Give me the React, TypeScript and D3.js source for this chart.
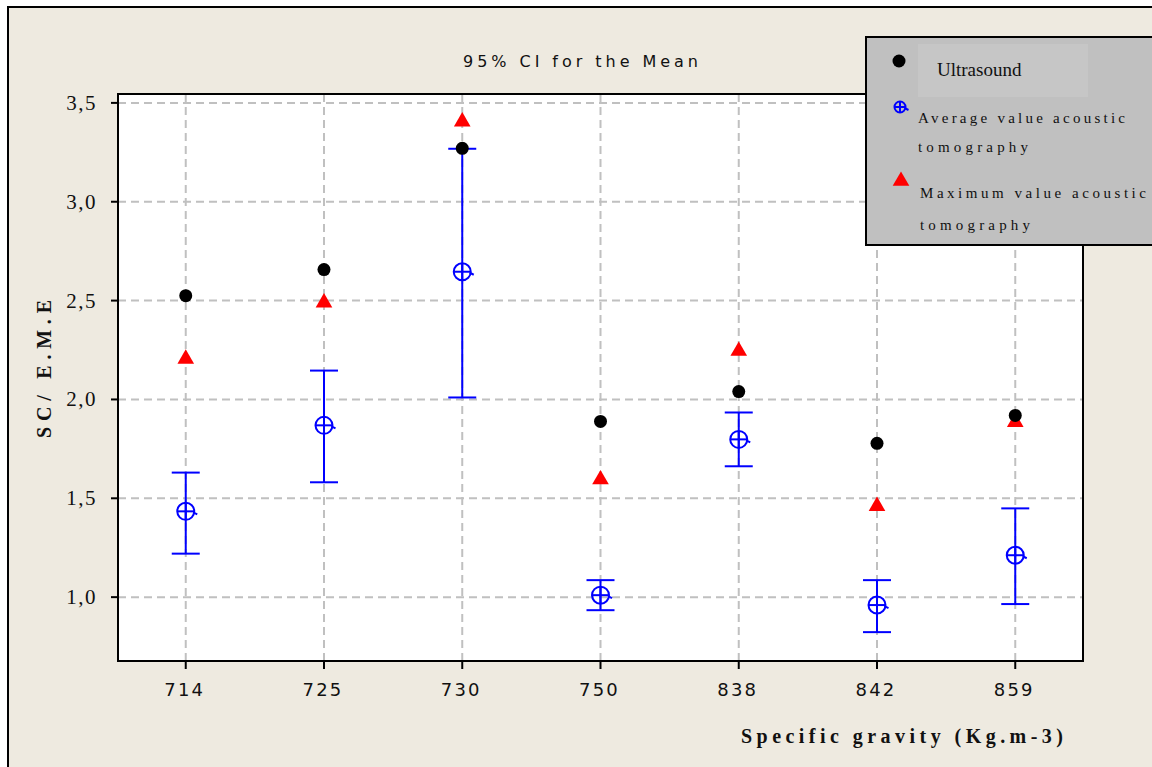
import React from "react";
import * as d3 from "d3";

// data
const categories = ["714", "725", "730", "750", "838", "842", "859"];
const ultrasound = [2.525, 2.657, 3.27, 1.889, 2.04, 1.778, 1.919];
const maxAcoustic = [2.21, 2.495, 3.41, 1.6, 2.25, 1.465, 1.89];
const avgAcoustic = [1.434, 1.869, 2.646, 1.01, 1.798, 0.96, 1.212];
const ciLower = [1.22, 1.581, 2.01, 0.934, 1.662, 0.823, 0.965];
const ciUpper = [1.63, 2.146, 3.268, 1.086, 1.934, 1.086, 1.449];
const yTicks = [1.0, 1.5, 2.0, 2.5, 3.0, 3.5];
const yTickLabels = ["1,0", "1,5", "2,0", "2,5", "3,0", "3,5"];

const W = 1152;
const H = 767;
const plot = { left: 118, right: 1083, top: 94, bottom: 661 };

const App = () => {
  const x = d3
    .scalePoint<string>()
    .domain(categories)
    .range([plot.left, plot.right])
    .padding(0.49);

  const y = d3.scaleLinear().domain([0.677, 3.545]).range([plot.bottom, plot.top]);

  const tri = d3.symbol().type(d3.symbolTriangle).size(120);

  const serif = "'Liberation Serif', 'Times New Roman', serif";
  const sans = "'DejaVu Sans', Verdana, sans-serif";
  const blue = "#0000FF";

  // the open circle with a cross used for the mean markers
  const meanMarker = (cx: number, cy: number, r: number, key?: string) => (
    <g key={key} transform={`translate(${cx},${cy})`} stroke={blue} strokeWidth={2} fill="none">
      <circle r={r} />
      <line x1={-r} x2={r} y1={0} y2={0} />
      <line x1={0} x2={0} y1={-r} y2={r} />
      <line x1={r - 1} x2={r + 3} y1={1} y2={3} />
    </g>
  );

  return (
    <svg
      width={W}
      height={H}
      style={{ position: "absolute", left: 0, top: 0, background: "#ffffff" }}
    >
      {/* outer frame */}
      <rect x={8} y={7} width={1200} height={800} fill="#EEEAE0" stroke="#000" strokeWidth={2} />

      {/* title */}
      <text x={463} y={67} fontFamily={sans} fontSize={16} fill="#111" textLength={235} lengthAdjust="spacing">
        95% CI for the Mean
      </text>

      {/* plot area */}
      <rect
        x={plot.left}
        y={plot.top}
        width={plot.right - plot.left}
        height={plot.bottom - plot.top}
        fill="#ffffff"
      />

      {/* grid */}
      <g stroke="#C0C0C0" strokeWidth={2} strokeDasharray="8,5">
        {yTicks.map((t) => (
          <line key={"gy" + t} x1={plot.left} x2={plot.right} y1={y(t)} y2={y(t)} />
        ))}
        {categories.map((c) => (
          <line key={"gx" + c} x1={x(c)} x2={x(c)} y1={plot.top} y2={plot.bottom} />
        ))}
      </g>

      <rect
        x={plot.left}
        y={plot.top}
        width={plot.right - plot.left}
        height={plot.bottom - plot.top}
        fill="none"
        stroke="#000"
        strokeWidth={2}
      />

      {/* y axis ticks */}
      {yTicks.map((t, i) => (
        <g key={"yt" + t}>
          <line x1={plot.left - 7} x2={plot.left} y1={y(t)} y2={y(t)} stroke="#000" strokeWidth={2} />
          <text
            x={97}
            y={y(t) + 7}
            textAnchor="end"
            fontFamily={serif}
            fontSize={21}
            letterSpacing={1.5}
            fill="#111"
          >
            {yTickLabels[i]}
          </text>
        </g>
      ))}

      {/* x axis ticks */}
      {categories.map((c) => (
        <g key={"xt" + c}>
          <line x1={x(c)} x2={x(c)} y1={plot.bottom} y2={plot.bottom + 8} stroke="#000" strokeWidth={2} />
          <text
            x={(x(c) as number) - 1}
            y={696}
            textAnchor="middle"
            fontFamily={sans}
            fontSize={18}
            letterSpacing={2.2}
            fill="#111"
          >
            {c}
          </text>
        </g>
      ))}

      {/* axis titles */}
      <text
        x={741}
        y={743}
        fontFamily={serif}
        fontWeight="bold"
        fontSize={20}
        fill="#111"
        textLength={322}
        lengthAdjust="spacing"
      >
        Specific gravity (Kg.m-3)
      </text>
      <text
        transform="translate(51,438) rotate(-90)"
        fontFamily={serif}
        fontWeight="bold"
        fontSize={20}
        fill="#111"
        textLength={138}
        lengthAdjust="spacing"
      >
        SC/ E.M.E
      </text>

      {/* error bars */}
      {categories.map((c, i) => {
        const cx = x(c) as number;
        return (
          <g key={"eb" + c} stroke={blue} strokeWidth={2}>
            <line x1={cx} x2={cx} y1={y(ciLower[i])} y2={y(ciUpper[i])} />
            <line x1={cx - 14} x2={cx + 14} y1={y(ciLower[i])} y2={y(ciLower[i])} />
            <line x1={cx - 14} x2={cx + 14} y1={y(ciUpper[i])} y2={y(ciUpper[i])} />
          </g>
        );
      })}

      {/* mean markers */}
      {categories.map((c, i) => meanMarker(x(c) as number, y(avgAcoustic[i]), 8.5, "m" + c))}

      {/* maximum value triangles */}
      {categories.map((c, i) => (
        <path
          key={"tr" + c}
          d={tri() as string}
          transform={`translate(${x(c)},${y(maxAcoustic[i]) + 1})`}
          fill="#FF0000"
        />
      ))}

      {/* ultrasound dots */}
      {categories.map((c, i) => (
        <circle key={"u" + c} cx={x(c)} cy={y(ultrasound[i])} r={6.5} fill="#000" />
      ))}

      {/* legend */}
      <g>
        <rect x={866} y={37} width={300} height={208} fill="#C0C0C0" stroke="#000" strokeWidth={2} />
        <rect x={918} y={44} width={170} height={53} fill="#C6C6C6" />
        <circle cx={899} cy={61} r={6.5} fill="#000" />
        <text x={937} y={76} fontFamily={serif} fontSize={19} fill="#111">
          Ultrasound
        </text>
        {meanMarker(900, 107, 5.5)}
        <text x={918} y={123} fontFamily={serif} fontSize={15} fill="#111" textLength={207} lengthAdjust="spacing">
          Average value acoustic
        </text>
        <text x={918} y={152} fontFamily={serif} fontSize={15} fill="#111" textLength={110} lengthAdjust="spacing">
          tomography
        </text>
        <path d={tri() as string} transform="translate(901,181)" fill="#FF0000" />
        <text x={920} y={198} fontFamily={serif} fontSize={15} fill="#111" textLength={226} lengthAdjust="spacing">
          Maximum value acoustic
        </text>
        <text x={920} y={230} fontFamily={serif} fontSize={15} fill="#111" textLength={110} lengthAdjust="spacing">
          tomography
        </text>
      </g>
    </svg>
  );
};

export default App;
